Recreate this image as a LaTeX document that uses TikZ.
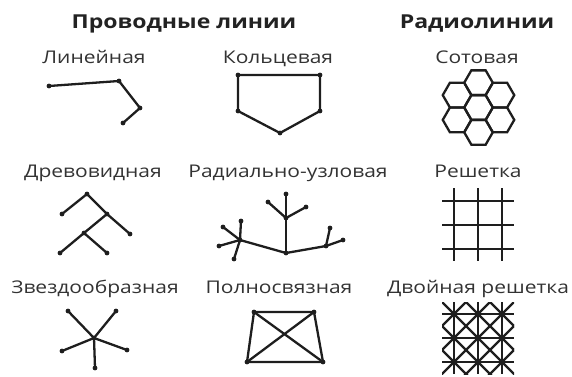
\documentclass[tikz,border=0pt]{standalone}
\usepackage{fontspec}
\usetikzlibrary{calc}
\setmainfont{Open Sans}[FakeStretch=1.2]
\definecolor{ink}{HTML}{1E1E1E}
\definecolor{txt}{HTML}{333333}
\definecolor{ttltxt}{HTML}{222222}
\tikzset{
  dot/.style={circle, fill=ink, inner sep=0pt, minimum size=4.8pt},
  edge/.style={draw=ink, line width=2.3pt},
  gridline/.style={draw=ink, line width=2.8pt},
  lbl/.style={anchor=base, text=txt, font=\fontsize{17.5}{20}\selectfont, inner sep=0pt},
  ttl/.style={anchor=base, text=ttltxt, font=\fontsize{19.2}{22}\selectfont\bfseries, inner sep=0pt},
}
\begin{document}
\begin{tikzpicture}[x=1pt,y=-1pt]
\useasboundingbox (0,0) rectangle (572,376);
% titles
\node[ttl] (t1) at (184,28) {Проводные линии};
\node[ttl] (t2) at (477,28) {Радиолинии};
% labels
\node[lbl] (l1) at (94,63) {Линейная};
\node[lbl] (l2) at (278,63) {Кольцевая};
\node[lbl] (l3) at (477,63) {Сотовая};
\node[lbl] (l4) at (93,177) {Древовидная};
\node[lbl] (l5) at (288,177) {Радиально-узловая};
\node[lbl] (l6) at (478,177) {Решетка};
\node[lbl] (l7) at (95,293) {Звездообразная};
\node[lbl] (l8) at (279,293) {Полносвязная};
\node[lbl] (l9) at (478,293) {Двойная решетка};
% linear
\node[dot] (L1) at (49,86) {};
\node[dot] (L2) at (119,81) {};
\node[dot] (L3) at (140,108) {};
\node[dot] (L4) at (123,123) {};
\draw[edge] (L1.center) -- (L2.center) -- (L3.center) -- (L4.center);
% ring
\node[dot] (R1) at (238,75) {};
\node[dot] (R2) at (320,75) {};
\node[dot] (R3) at (320,111) {};
\node[dot] (R4) at (280,133) {};
\node[dot] (R5) at (238,111) {};
\draw[edge] (R1.center) -- (R2.center) -- (R3.center) -- (R4.center) -- (R5.center) -- cycle;
% tree
\node[dot] (T1) at (87,194) {};
\node[dot] (T2) at (62,214) {};
\node[dot] (T3) at (107,214) {};
\node[dot] (T4) at (130,234) {};
\node[dot] (T5) at (84,233) {};
\node[dot] (T6) at (60,253) {};
\node[dot] (T7) at (107,253) {};
\draw[edge] (T2.center) -- (T1.center) -- (T3.center) -- (T4.center);
\draw[edge] (T3.center) -- (T5.center) -- (T6.center);
\draw[edge] (T5.center) -- (T7.center);
% radial-nodal
\node[dot] (C0) at (286,253) {};
\node[dot] (C1) at (286,218) {};
\node[dot] (C2) at (286,194) {};
\node[dot] (C3) at (268,202) {};
\node[dot] (C4) at (306,207) {};
\node[dot] (LH) at (240,240) {};
\node[dot] (LA) at (241,221) {};
\node[dot] (LB) at (223,227) {};
\node[dot] (LC) at (219,246) {};
\node[dot] (LD) at (234,259) {};
\node[dot] (RH) at (326,246) {};
\node[dot] (RA) at (330,228) {};
\node[dot] (RB) at (343,240) {};
\draw[edge] (LH.center) -- (C0.center) -- (RH.center);
\draw[edge] (C0.center) -- (C1.center) -- (C2.center);
\draw[edge] (C3.center) -- (C1.center) -- (C4.center);
\draw[edge] (LH.center) -- (LA.center);
\draw[edge] (LH.center) -- (LB.center);
\draw[edge] (LH.center) -- (LC.center);
\draw[edge] (LH.center) -- (LD.center);
\draw[edge] (RH.center) -- (RA.center);
\draw[edge] (RH.center) -- (RB.center);
% star
\node[dot] (S0) at (94,338) {};
\node[dot] (S1) at (68,311) {};
\node[dot] (S2) at (116,311) {};
\node[dot] (S3) at (62,351) {};
\node[dot] (S4) at (127,350) {};
\node[dot] (S5) at (95,368) {};
\foreach \s in {S1,S2,S3,S4,S5} \draw[edge] (S0.center) -- (\s.center);
% full mesh
\node[dot] (M1) at (254,312) {};
\node[dot] (M2) at (314,312) {};
\node[dot] (M3) at (323,362) {};
\node[dot] (M4) at (247,362) {};
\draw[edge] (M1.center) -- (M2.center) -- (M3.center) -- (M4.center) -- cycle;
\draw[edge] (M1.center) -- (M3.center);
\draw[edge] (M2.center) -- (M4.center);
% honeycomb
\foreach \dx/\dy in {0/0, 0/-24.77, 0/24.77, 21.45/-12.385, 21.45/12.385, -21.45/-12.385, -21.45/12.385}
  \draw[edge] ($(478.5,107.5)+(\dx,\dy)$) ++(0:14.3) -- ++(120:14.3) -- ++(180:14.3) -- ++(240:14.3) -- ++(300:14.3) -- ++(0:14.3) -- cycle;
% grid
\foreach \v in {454,478,502} {
  \draw[gridline] (\v,188) -- (\v,261);
}
\foreach \h in {201,225,249} {
  \draw[gridline] (442,\h) -- (514,\h);
}
% double grid
\foreach \v in {454,478,502} {
  \draw[gridline] (\v,302) -- (\v,374);
}
\foreach \h in {314,338,362} {
  \draw[gridline] (442,\h) -- (514,\h);
}
\begin{scope}
  \clip (442,302) rectangle (514,374);
  \foreach \k in {-2,-1,0,1,2} {
    \draw[edge] (478+24*\k-60,338-60) -- (478+24*\k+60,338+60);
    \draw[edge] (478+24*\k+60,338-60) -- (478+24*\k-60,338+60);
  }
\end{scope}
\end{tikzpicture}
\end{document}
